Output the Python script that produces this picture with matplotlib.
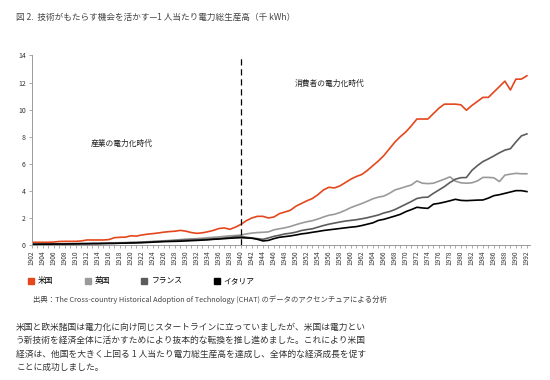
import numpy as np
import matplotlib
matplotlib.use("Agg")
import matplotlib.pyplot as plt
from matplotlib.lines import Line2D

plt.rcParams['font.family'] = ['Noto Sans CJK JP', 'DejaVu Sans']

# データ（1人当たり電力総生産高、千 kWh）
years = np.arange(1902, 1993)

usa = [0.18, 0.18, 0.18, 0.18, 0.2, 0.24, 0.25, 0.25, 0.25, 0.28,
       0.35, 0.35, 0.35, 0.35, 0.38, 0.52, 0.55, 0.56, 0.66, 0.64,
       0.72, 0.78, 0.82, 0.87, 0.93, 0.97, 1.0, 1.06, 1.0, 0.9,
       0.84, 0.88, 0.96, 1.06, 1.2, 1.24, 1.14, 1.3, 1.5, 1.78,
       1.98, 2.1, 2.1, 1.98, 2.05, 2.3, 2.42, 2.55, 2.85, 3.05,
       3.25, 3.42, 3.7, 4.05, 4.25, 4.2, 4.35, 4.6, 4.85, 5.05,
       5.2, 5.5, 5.85, 6.2, 6.6, 7.1, 7.6, 8.0, 8.35, 8.8,
       9.3, 9.3, 9.3, 9.7, 10.1, 10.4, 10.4, 10.4, 10.35, 9.95,
       10.3, 10.6, 10.9, 10.9, 11.3, 11.7, 12.1, 11.45, 12.25, 12.25,
       12.5]

uk = [0.05, 0.05, 0.06, 0.06, 0.07, 0.07, 0.08, 0.08, 0.09, 0.09,
      0.1, 0.1, 0.11, 0.12, 0.13, 0.14, 0.15, 0.16, 0.18, 0.18,
      0.2, 0.22, 0.25, 0.27, 0.29, 0.32, 0.35, 0.38, 0.41, 0.43,
      0.45, 0.48, 0.52, 0.55, 0.58, 0.62, 0.66, 0.68, 0.72, 0.8,
      0.86, 0.9, 0.92, 0.95, 1.1, 1.18, 1.25, 1.35, 1.48, 1.6,
      1.7, 1.78, 1.9, 2.05, 2.18, 2.25, 2.38, 2.55, 2.75, 2.9,
      3.05, 3.22, 3.4, 3.52, 3.6, 3.8, 4.05, 4.17, 4.3, 4.42,
      4.72, 4.55, 4.52, 4.55, 4.7, 4.85, 5.02, 4.7, 4.58, 4.55,
      4.58, 4.72, 4.98, 4.98, 4.95, 4.67, 5.15, 5.22, 5.28, 5.25,
      5.25]

france = [0.04, 0.04, 0.05, 0.05, 0.05, 0.06, 0.06, 0.07, 0.07, 0.08,
          0.08, 0.09, 0.09, 0.1, 0.1, 0.11, 0.12, 0.13, 0.15, 0.16,
          0.18, 0.2, 0.22, 0.24, 0.26, 0.28, 0.3, 0.33, 0.36, 0.38,
          0.38, 0.4, 0.42, 0.44, 0.46, 0.5, 0.54, 0.6, 0.62, 0.55,
          0.5, 0.45, 0.4, 0.5, 0.62, 0.7, 0.8, 0.85, 0.93, 1.05,
          1.12, 1.18, 1.3, 1.42, 1.52, 1.6, 1.68, 1.75, 1.8, 1.85,
          1.92, 2.0, 2.1, 2.2, 2.35, 2.45, 2.6, 2.8, 3.0, 3.2,
          3.42, 3.5, 3.52, 3.8, 4.05, 4.3, 4.6, 4.85, 4.96, 4.97,
          5.5, 5.85, 6.15, 6.35, 6.57, 6.8, 7.0, 7.1, 7.6, 8.05,
          8.2]

italy = [0.03, 0.03, 0.04, 0.04, 0.05, 0.05, 0.05, 0.06, 0.06, 0.07,
         0.07, 0.08, 0.08, 0.09, 0.1, 0.1, 0.11, 0.12, 0.13, 0.14,
         0.15, 0.17, 0.19, 0.21, 0.23, 0.24, 0.25, 0.26, 0.28, 0.3,
         0.32, 0.34, 0.36, 0.4, 0.42, 0.45, 0.48, 0.5, 0.52, 0.5,
         0.48, 0.4, 0.28, 0.32, 0.45, 0.55, 0.6, 0.65, 0.72, 0.8,
         0.85, 0.92, 0.98, 1.05, 1.1, 1.15, 1.2, 1.25, 1.3, 1.34,
         1.42, 1.52, 1.62, 1.8, 1.88, 2.0, 2.12, 2.25, 2.45, 2.6,
         2.77, 2.72, 2.69, 3.0, 3.06, 3.15, 3.25, 3.36, 3.28, 3.26,
         3.28, 3.3, 3.31, 3.45, 3.63, 3.7, 3.8, 3.9, 4.0, 4.0,
         3.93]

series_names = ['米国', '英国', 'フランス', 'イタリア']
series_colors = ['#e5461c', '#9a9a9a', '#5c5c5c', '#000000']

title = '図 2.  技術がもたらす機会を活かす—1 人当たり電力総生産高（千 kWh）'
source = '出典：The Cross-country Historical Adoption of Technology (CHAT) のデータのアクセンチュアによる分析'
body_lines = [
    '米国と欧米諸国は電力化に向け同じスタートラインに立っていましたが、米国は電力とい',
    'う新技術を経済全体に活かすためにより抜本的な転換を推し進めました。これにより米国',
    '経済は、他国を大きく上回る 1 人当たり電力総生産高を達成し、全体的な経済成長を促す',
    'ことに成功しました。',
]

fig = plt.figure(figsize=(5.5, 3.8), dpi=100)
ax = fig.add_axes([0.058, 0.356, 0.906, 0.498])

for vals, name, col in zip([usa, uk, france, italy], series_names, series_colors):
    ax.plot(years, vals, color=col, lw=1.2, label=name)

ax.axvline(1940, color='black', lw=0.9, ls=(0, (5, 3)))

ax.text(1918.4, 7.5, '産業の電力化時代', fontsize=5.6, ha='center', va='center', color='#222222')
ax.text(1956.2, 11.9, '消費者の電力化時代', fontsize=5.6, ha='center', va='center', color='#222222')

ax.set_xlim(1902, 1992.6)
ax.set_ylim(0, 14)
ax.set_yticks(range(0, 15, 2))
ax.set_xticks(range(1902, 1993, 2))
ax.set_xticks(range(1902, 1993), minor=True)
ax.tick_params(axis='x', which='major', labelsize=4.7, rotation=90, length=2.5,
               width=0.5, colors='#888888', labelcolor='#333333', pad=1.5)
ax.tick_params(axis='x', which='minor', length=2.5, width=0.5, colors='#888888')
ax.tick_params(axis='y', labelsize=5, length=2.5, width=0.5, colors='#888888',
               labelcolor='#333333', pad=2)
for s in ['top', 'right']:
    ax.spines[s].set_visible(False)
for s in ['left', 'bottom']:
    ax.spines[s].set_color('#999999')
    ax.spines[s].set_linewidth(0.7)

handles = [Line2D([], [], ls='none', marker='s', markersize=4, color=c) for c in series_colors]
fig.legend(handles, series_names, loc='center left', bbox_to_anchor=(0.045, 1 - 281.5 / 380),
           ncol=4, frameon=False, fontsize=5.6, handlelength=0.8, handletextpad=0.5,
           columnspacing=4.0, borderaxespad=0)

fig.text(16 / 550, 1 - 17 / 380, title, fontsize=6.2, color='#444444', va='center', ha='left')
fig.text(33 / 550, 1 - 300 / 380, source, fontsize=5.3, color='#444444', va='center', ha='left')
for i, line in enumerate(body_lines):
    fig.text(16 / 550, 1 - (327 + i * 13.5) / 380, line, fontsize=6.3, color='#333333',
             va='center', ha='left')

fig.savefig('out.png', dpi=100)
